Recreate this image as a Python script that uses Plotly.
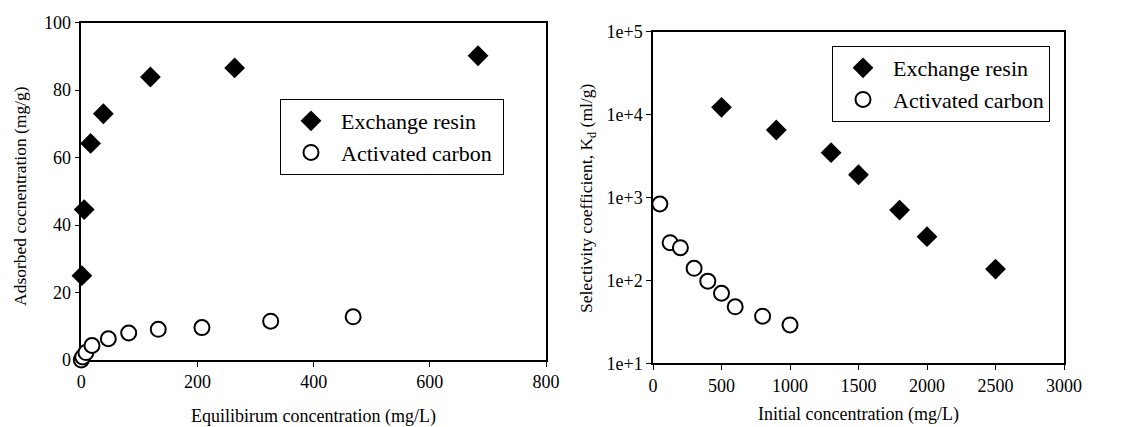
import plotly.graph_objects as go

# Left chart: adsorption isotherm
resin_eq_x = [1, 5, 16, 38, 119, 264, 683]
resin_eq_y = [25, 44.6, 64.2, 73, 83.9, 86.6, 90.2]
carbon_eq_x = [0, 2.4, 8, 18.4, 46.5, 81.6, 132.5, 207.7, 326, 468]
carbon_eq_y = [0, 0.9, 2.2, 4.3, 6.3, 8.0, 9.1, 9.6, 11.5, 12.8]

# Right chart: selectivity coefficient
resin_kd_x = [500, 900, 1300, 1500, 1800, 2000, 2500]
resin_kd_y = [12250, 6520, 3470, 1880, 706, 337, 137]
carbon_kd_x = [50, 125, 200, 300, 400, 500, 600, 800, 1000]
carbon_kd_y = [835, 285, 248, 140, 98, 70, 48, 37, 29]

log_tickvals = [10, 100, 1000, 10000, 100000]
log_ticktext = ["1e+1", "1e+2", "1e+3", "1e+4", "1e+5"]

OFF = 8  # default page body margin
W, H = 1140 - OFF, 427 - OFF
FONT = "Liberation Serif"

def px_x(p):
    return (p - OFF) / W

def px_y(p):
    return 1 - (p - OFF) / H

fig = go.Figure()

diamond = dict(symbol="diamond", size=16, color="black", line=dict(width=0))
circle = dict(symbol="circle", size=15, color="white", line=dict(color="black", width=2))

fig.add_trace(go.Scatter(x=resin_eq_x, y=resin_eq_y, mode="markers", name="Exchange resin",
                         marker=diamond, xaxis="x", yaxis="y", legend="legend", cliponaxis=False))
fig.add_trace(go.Scatter(x=carbon_eq_x, y=carbon_eq_y, mode="markers", name="Activated carbon\u00a0",
                         marker=circle, xaxis="x", yaxis="y", legend="legend", cliponaxis=False))
fig.add_trace(go.Scatter(x=resin_kd_x, y=resin_kd_y, mode="markers", name="Exchange resin",
                         marker=diamond, xaxis="x2", yaxis="y2", legend="legend2", cliponaxis=False))
fig.add_trace(go.Scatter(x=carbon_kd_x, y=carbon_kd_y, mode="markers", name="Activated carbon",
                         marker=circle, xaxis="x2", yaxis="y2", legend="legend2", cliponaxis=False))

axis_common = dict(showline=True, linecolor="black", linewidth=1.5, mirror=True,
                   ticks="outside", ticklen=5, tickcolor="black", showgrid=False,
                   zeroline=False, automargin=False, layer="below traces",
                   tickfont=dict(family=FONT, size=18, color="black"))

legend_common = dict(bgcolor="white", bordercolor="black", borderwidth=1,
                     font=dict(family=FONT, size=22, color="black"),
                     xanchor="left", yanchor="top", tracegroupgap=0,
                     itemsizing="trace", itemwidth=50)

fig.update_layout(
    template="none",
    width=W, height=H,
    margin=dict(l=0, r=0, t=0, b=0, autoexpand=False),
    paper_bgcolor="white", plot_bgcolor="white",
    font=dict(family=FONT, color="black"),
    xaxis=dict(domain=[px_x(81.3), px_x(546)], range=[0, 800], dtick=200,
               anchor="y", **axis_common),
    yaxis=dict(domain=[px_y(360), px_y(22.7)], range=[0, 100], dtick=20,
               anchor="x", **axis_common),
    xaxis2=dict(domain=[px_x(653), px_x(1064)], range=[0, 3000], dtick=500,
                anchor="y2", **axis_common),
    yaxis2=dict(domain=[px_y(363.3), px_y(31.7)], type="log", range=[1, 5],
                tickvals=log_tickvals, ticktext=log_ticktext,
                anchor="x2", **axis_common),
    legend=dict(x=px_x(280), y=px_y(99), **legend_common),
    legend2=dict(x=px_x(832), y=px_y(46), **legend_common),
    showlegend=True,
)

annotations = [
    dict(text="Equilibirum concentration (mg/L)", x=px_x(313), y=px_y(416), size=18),
    dict(text="Initial concentration (mg/L)", x=px_x(858), y=px_y(414), size=18),
    dict(text="Adsorbed cocnentration (mg/g)", x=px_x(20), y=px_y(196), textangle=-90, size=17.5),
    dict(text="Selectivity coefficient, K<sub>d</sub> (ml/g)", x=px_x(587), y=px_y(198), textangle=-90, size=17.5),
]
for a in annotations:
    sz = a.pop("size")
    fig.add_annotation(xref="paper", yref="paper", showarrow=False,
                       xanchor="center", yanchor="middle",
                       font=dict(family=FONT, size=sz, color="black"), **a)

fig.write_html("out.html")
